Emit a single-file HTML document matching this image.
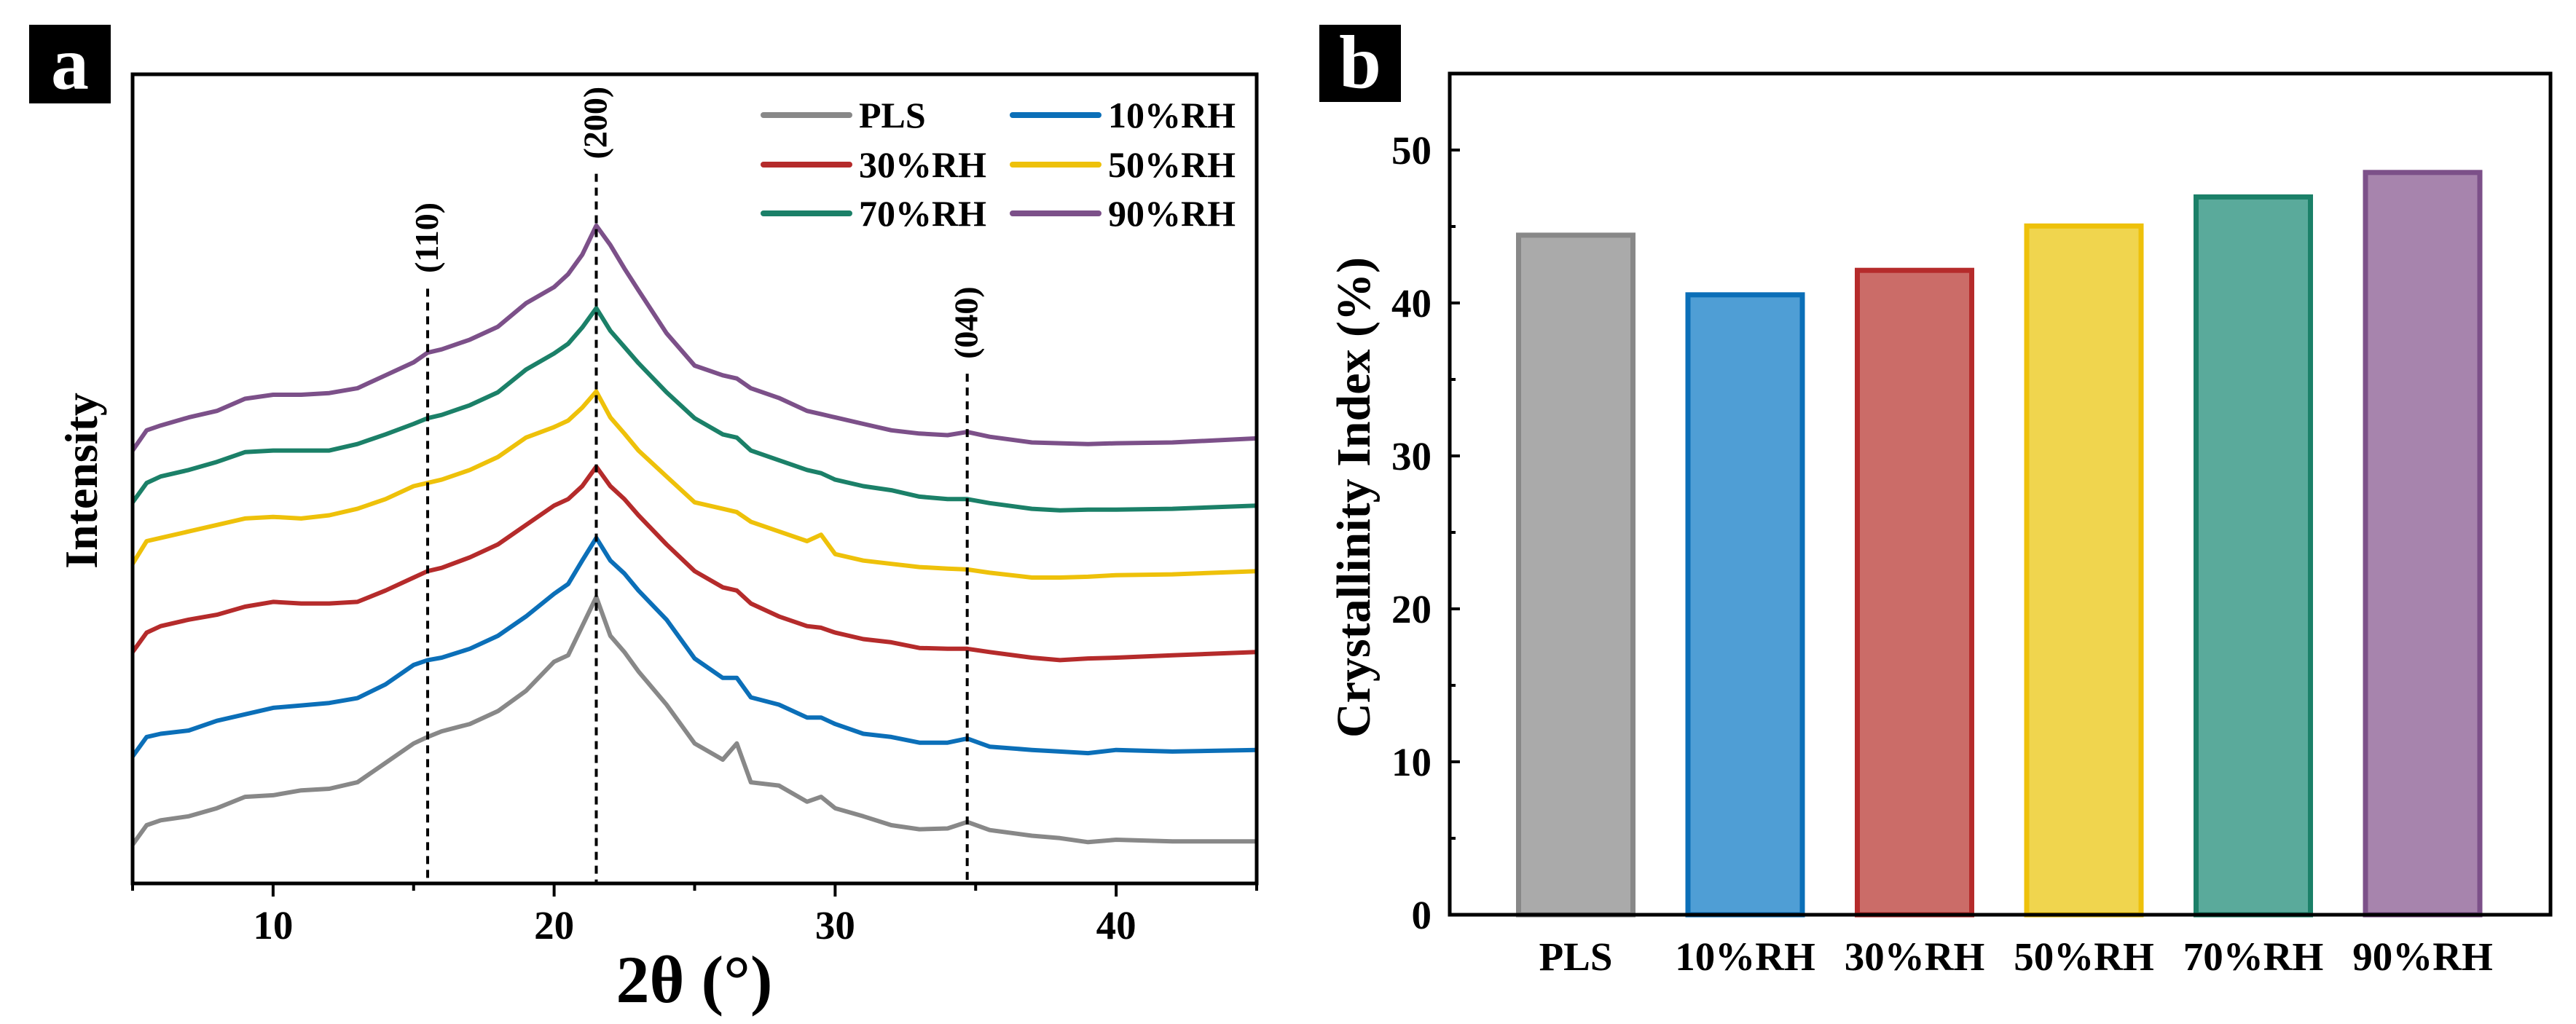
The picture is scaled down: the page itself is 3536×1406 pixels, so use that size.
<!DOCTYPE html>
<html><head><meta charset="utf-8">
<style>
html,body{margin:0;padding:0;background:#fff;}
svg{display:block;font-family:"Liberation Serif",serif;font-weight:bold;}
</style></head>
<body>
<svg id="fig" width="3536" height="1406" viewBox="0 0 3536 1406" xmlns="http://www.w3.org/2000/svg">
<rect width="3536" height="1406" fill="#fff"/>
<g id="pa"></g>
<g id="pb"></g>
</svg>
<script>
// ---------- Panel a data ----------
const twoTheta = [5,5.5,6,7,8,9,10,11,12,13,14,15,15.5,16,17,18,19,20,20.5,21,21.5,22,22.5,23,24,25,26,26.5,27,28,29,29.5,30,31,32,33,34,34.7,35.5,37,38,39,40,42,45];
const seriesNames = ["PLS","10%RH","30%RH","50%RH","70%RH","90%RH"];
const plsI = [4.8,7.2,7.8,8.3,9.3,10.7,10.9,11.5,11.7,12.5,14.9,17.3,18.1,18.8,19.7,21.3,23.8,27.4,28.2,31.8,35.4,30.6,28.6,26.2,22.1,17.3,15.3,17.3,12.5,12.1,10.1,10.7,9.3,8.3,7.2,6.7,6.8,7.6,6.6,5.9,5.6,5.1,5.4,5.2,5.2];
const rh10I = [15.7,18.1,18.5,18.9,20.1,20.9,21.7,22.0,22.3,22.9,24.6,27.0,27.6,27.9,29.0,30.6,33.0,35.8,37.0,39.9,42.7,39.9,38.3,36.2,32.6,27.8,25.4,25.4,23.0,22.1,20.5,20.5,19.7,18.5,18.1,17.4,17.4,17.9,16.9,16.5,16.3,16.1,16.5,16.3,16.5];
const rh30I = [28.6,31.0,31.8,32.6,33.2,34.2,34.8,34.6,34.6,34.8,36.2,37.8,38.6,39.0,40.3,41.9,44.3,46.7,47.5,49.1,51.5,49.1,47.5,45.5,41.9,38.6,36.6,36.2,34.6,33.0,31.8,31.6,31.0,30.2,29.8,29.1,29.0,29.0,28.6,27.9,27.6,27.8,27.9,28.2,28.6];
const rh50I = [39.5,42.3,42.7,43.5,44.3,45.1,45.3,45.1,45.5,46.3,47.5,49.1,49.5,49.9,51.1,52.7,55.1,56.4,57.2,58.8,60.8,57.6,55.6,53.5,50.3,47.1,46.3,45.9,44.7,43.5,42.3,43.1,40.7,39.9,39.5,39.1,38.9,38.8,38.4,37.8,37.8,37.9,38.1,38.2,38.6];
const rh70I = [47.1,49.5,50.3,51.1,52.1,53.3,53.5,53.5,53.5,54.3,55.5,56.8,57.5,57.9,59.1,60.7,63.5,65.5,66.7,68.7,71.1,68.3,66.3,64.3,60.7,57.5,55.5,55.1,53.5,52.3,51.1,50.7,49.9,49.1,48.6,47.8,47.5,47.5,47.0,46.3,46.1,46.2,46.2,46.3,46.7];
const rh90I = [53.5,56.0,56.6,57.6,58.4,59.9,60.4,60.4,60.6,61.2,62.8,64.4,65.6,66.0,67.2,68.8,71.7,73.7,75.3,77.7,81.3,78.9,76.0,73.3,68.0,64.0,62.8,62.4,61.2,60.0,58.4,58.0,57.6,56.8,56.0,55.6,55.4,55.8,55.2,54.5,54.4,54.3,54.4,54.5,55.0];
const xTicks = [10,20,30,40];
const xMinor = [5,15,25,35,45];
const peakPos = [15.5,21.5,34.7];
const peakLabels = ["(110)","(200)","(040)"];
const peakTopI = [73.5,87.7,63.0];
// ---------- Panel b data ----------
const barCats = ["PLS","10%RH","30%RH","50%RH","70%RH","90%RH"];
const barVals = [44.6,40.7,42.3,45.2,47.1,48.7];
const yTicksB = [0,10,20,30,40,50];
const yMinorB = [5,15,25,35,45];

const NS="http://www.w3.org/2000/svg";
function mk(parent,tag,attrs,text){const e=document.createElementNS(NS,tag);for(const k in attrs)e.setAttribute(k,attrs[k]);if(text!==undefined)e.textContent=text;parent.appendChild(e);return e;}

const lineColors=["#888888","#0b6fb8","#b52b2b","#eec10a","#1b8068","#7c5089"];
const fillColors=["#aaaaaa","#4f9ed5","#cb6c68","#f0d54e","#5aaa9b","#a784ad"];

// ---------- Panel a ----------
const pa=document.getElementById('pa');
const AX={l:182,r:1725,t:102,b:1213};
const xA=v=>AX.l+(v-5)/40*(AX.r-AX.l);
const yA=v=>AX.b-v/100*(AX.b-AX.t);
const labA=mk(pa,'rect',{x:40,y:34,width:112,height:108,fill:'#000'});


const labAt=mk(pa,'text',{x:96,y:122,'text-anchor':'middle','font-size':104,fill:'#fff'},'a');



const allSeries=[plsI,rh10I,rh30I,rh50I,rh70I,rh90I];
allSeries.forEach((arr,si)=>{
  const d=arr.map((v,i)=>(i?'L':'M')+xA(twoTheta[i]).toFixed(1)+','+yA(v).toFixed(1)).join(' ');
  const p=mk(pa,'path',{d:d,fill:'none',stroke:lineColors[si],'stroke-width':6,'stroke-linejoin':'round'});
  
  
});
peakPos.forEach((px,i)=>{
  const l=mk(pa,'line',{x1:xA(px),x2:xA(px),y1:yA(peakTopI[i]),y2:AX.b,stroke:'#000','stroke-width':4,'stroke-dasharray':'11,8'});
  
  
  const cx=xA(px)+14, cy=yA(peakTopI[i])-70;
  const t=mk(pa,'text',{x:cx,y:cy,'text-anchor':'middle','font-size':46,transform:`rotate(-90 ${cx} ${cy})`},peakLabels[i]);
  
  
});
const frA=mk(pa,'rect',{x:AX.l,y:AX.t,width:AX.r-AX.l,height:AX.b-AX.t,fill:'none',stroke:'#000','stroke-width':5});


xTicks.forEach(v=>{
  const tk=mk(pa,'line',{x1:xA(v),x2:xA(v),y1:AX.b,y2:AX.b+18,stroke:'#000','stroke-width':4});
  
  
  const tl=mk(pa,'text',{x:xA(v),y:1289,'text-anchor':'middle','font-size':55},String(v));
  
  
});
xMinor.forEach(v=>{
  const tk=mk(pa,'line',{x1:xA(v),x2:xA(v),y1:AX.b,y2:AX.b+10,stroke:'#000','stroke-width':4});
  
  
});
const xt=mk(pa,'text',{x:953,y:1376,'text-anchor':'middle','font-size':92},'2θ (°)');


const yt=mk(pa,'text',{x:133,y:660,'text-anchor':'middle','font-size':64,transform:'rotate(-90 133 660)'},'Intensity');


// legend
const legPos=[[1048,158],[1390,158],[1048,226],[1390,226],[1048,293],[1390,293]];
seriesNames.forEach((n,i)=>{
  const g=mk(pa,'g',{});
  
  
  const [lx,ly]=legPos[i];
  mk(g,'line',{x1:lx,x2:lx+118,y1:ly,y2:ly,stroke:lineColors[i],'stroke-width':8,'stroke-linecap':'round'});
  mk(g,'text',{x:lx+131,y:ly+17,'font-size':50},n);
});

// ---------- Panel b ----------
const pb=document.getElementById('pb');
const BX={l:1990,r:3501,t:101,b:1256};
const yB=v=>BX.b-v/55*(BX.b-BX.t);
const band=232.5, first=2163;
const xB=i=>first+i*band;
const labB=mk(pb,'rect',{x:1811,y:34,width:112,height:106,fill:'#000'});


const labBt=mk(pb,'text',{x:1867,y:120,'text-anchor':'middle','font-size':104,fill:'#fff'},'b');


barVals.forEach((v,i)=>{
  const w=164;
  const r=mk(pb,'rect',{x:xB(i)-w/2+3.5,y:yB(v)+3.5,width:w-7,height:BX.b-yB(v)-3.5,fill:fillColors[i],stroke:lineColors[i],'stroke-width':7});
  
  
  const t=mk(pb,'text',{x:xB(i),y:1332,'text-anchor':'middle','font-size':55},barCats[i]);
  
  
});
const frB=mk(pb,'rect',{x:BX.l,y:BX.t,width:BX.r-BX.l,height:BX.b-BX.t,fill:'none',stroke:'#000','stroke-width':5});


yTicksB.forEach(v=>{
  const tk=mk(pb,'line',{x1:BX.l,x2:BX.l+14,y1:yB(v),y2:yB(v),stroke:'#000','stroke-width':4});
  
  
  const tl=mk(pb,'text',{x:1965,y:yB(v)+19,'text-anchor':'end','font-size':55},String(v));
  
  
});
yMinorB.forEach(v=>{
  const tk=mk(pb,'line',{x1:BX.l,x2:BX.l+8,y1:yB(v),y2:yB(v),stroke:'#000','stroke-width':4});
  
  
});
const ytb=mk(pb,'text',{x:1880,y:683,'text-anchor':'middle','font-size':66,transform:'rotate(-90 1880 683)'},'Crystallinity Index (%)');


</script>
</body></html>
